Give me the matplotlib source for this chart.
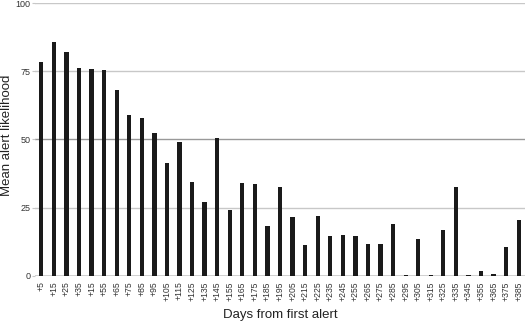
import matplotlib
matplotlib.use("Agg")
import matplotlib.pyplot as plt
import numpy as np

labels = ["+5", "+15", "+25", "+35", "+15", "+55", "+65", "+75", "+85", "+95",
          "+105", "+115", "+125", "+135", "+145", "+155", "+165", "+175", "+185", "+195",
          "+205", "+215", "+225", "+235", "+245", "+255", "+265", "+275", "+285", "+295",
          "+305", "+315", "+325", "+335", "+345", "+355", "+365", "+375", "+385"]
values = [78.6, 85.9, 82.0, 76.4, 76.0, 75.5, 68.3, 59.1, 57.9, 52.2,
          41.3, 49.1, 34.4, 27.2, 50.4, 24.0, 34.2, 33.5, 18.2, 32.6,
          21.5, 11.1, 21.9, 14.7, 14.9, 14.6, 11.7, 11.6, 18.9, 0.3,
          13.6, 0.3, 16.8, 32.4, 0.3, 1.9, 0.7, 10.6, 20.6]
yticks = [0, 25, 50, 75, 100]

plt.rcParams['font.family'] = ['Liberation Sans', 'DejaVu Sans']
fig = plt.figure(figsize=(5.25, 3.21), dpi=100)
ax = fig.add_axes([0.0667, 0.141, 0.9333, 0.849])
x = np.arange(len(labels))
for yv in yticks[1:]:
    ax.axhline(yv, color='#999999' if yv == 50 else '#c8c8c8', lw=1.0, zorder=0)
ax.axhline(0, color='#c8c8c8', lw=1.2, zorder=0)
ax.bar(x, values, width=0.34, color='#1a1a1a', zorder=2)
ax.set_xlim(-0.5, len(labels) - 0.5)
ax.set_ylim(0, 100)
ax.set_yticks(yticks)
ax.set_yticklabels([str(v) for v in yticks], fontsize=6.5, color='#333333')
ax.set_xticks(x)
ax.set_xticklabels(labels, rotation=90, fontsize=6.2, color='#333333')
ax.tick_params(axis='x', length=0, pad=4)
ax.tick_params(axis='y', length=2.5, width=0.8, color='#c8c8c8', pad=1)
for s in ax.spines.values():
    s.set_visible(False)
ax.set_ylabel("Mean alert likelihood", fontsize=9.5, color='#222222')
ax.yaxis.set_label_coords(-0.045, 0.515)
ax.set_xlabel("Days from first alert", fontsize=9.5, color='#222222', labelpad=6)
fig.savefig("out.png", dpi=100)
